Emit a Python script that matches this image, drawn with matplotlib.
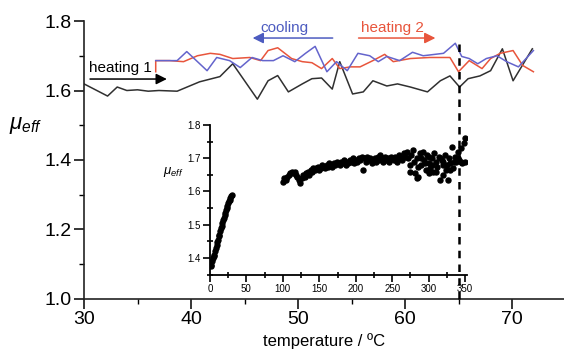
import matplotlib
matplotlib.use('Agg')
import matplotlib.pyplot as plt
from matplotlib.ticker import MultipleLocator

plt.rcParams['font.family'] = ['Liberation Sans', 'DejaVu Sans']
plt.rcParams['mathtext.fontset'] = 'custom'
plt.rcParams['mathtext.it'] = 'Liberation Sans:italic'
plt.rcParams['mathtext.rm'] = 'Liberation Sans'

# curva principal: mu_eff vs temperatura (oC)
t_heat1 = [30, 32.2, 33.1, 34, 35, 36, 37, 38.7, 40.8, 42.7, 43.9, 46.2, 47.2, 48.1,
           49.1, 50.4, 51.3, 52.2, 53.2, 53.9, 55.1, 56.1, 57, 58.3, 59.3, 60.5, 62.1,
           63.3, 64.2, 65.1, 65.9, 67, 68, 69.1, 70.1, 71.9]
mu_heat1 = [1.619, 1.584, 1.61, 1.60, 1.602, 1.598, 1.60, 1.598, 1.625, 1.64, 1.677,
            1.575, 1.628, 1.643, 1.596, 1.619, 1.634, 1.636, 1.604, 1.683, 1.59, 1.596,
            1.628, 1.613, 1.619, 1.61, 1.596, 1.628, 1.642, 1.61, 1.634, 1.642, 1.657,
            1.72, 1.628, 1.72]

t_heat2 = [36.7, 36.7, 38, 39.3, 40.6, 41.8, 42.7, 43.9, 45.5, 46.5, 47.2, 48.1, 49.4,
           50.4, 51.3, 52.2, 53.2, 53.9, 54.9, 55.8, 57, 58.1, 58.9, 60.5, 62.3, 64.2,
           65, 66, 67.2, 68, 68.9, 70.1, 71, 72]
mu_heat2 = [1.654, 1.686, 1.686, 1.683, 1.70, 1.707, 1.704, 1.692, 1.695, 1.686, 1.715,
            1.723, 1.692, 1.683, 1.68, 1.663, 1.692, 1.663, 1.668, 1.668, 1.686, 1.704,
            1.683, 1.692, 1.695, 1.695, 1.654, 1.686, 1.663, 1.692, 1.707, 1.715, 1.672,
            1.654]

t_cool = [36.7, 38, 38.7, 39.6, 41.5, 42.4, 43.6, 44.6, 45.7, 46.7, 47.7, 48.6, 49.7,
          50.7, 51.6, 52.7, 53.6, 54.6, 55.6, 56.7, 57.5, 58.3, 59.5, 60.7, 61.7, 63.6,
          64.7, 65.3, 66, 66.8, 67.6, 68.6, 69.5, 70.6, 72]
mu_cool = [1.686, 1.686, 1.686, 1.712, 1.657, 1.695, 1.686, 1.666, 1.695, 1.686, 1.686,
           1.70, 1.683, 1.707, 1.727, 1.654, 1.683, 1.657, 1.707, 1.70, 1.683, 1.698,
           1.686, 1.71, 1.70, 1.707, 1.736, 1.698, 1.692, 1.677, 1.692, 1.70, 1.683,
           1.668, 1.715]

t_transicion = 65

# inset: mu_eff vs temperatura (K)
tk_bajo = [1, 2, 3, 4, 5, 6, 7, 8, 9, 10, 11, 12, 13, 14, 15, 16, 17, 18, 19, 20,
           21, 22, 23, 24, 25, 26, 27, 28, 29, 30]
mu_bajo = [1.375, 1.38, 1.39, 1.40, 1.405, 1.41, 1.42, 1.43, 1.44, 1.447, 1.455, 1.465,
           1.47, 1.48, 1.49, 1.497, 1.505, 1.515, 1.52, 1.53, 1.535, 1.545, 1.55, 1.555,
           1.565, 1.57, 1.575, 1.58, 1.585, 1.59]

tk_alto = [100, 102, 104, 106, 108, 110, 112, 114, 116, 118, 120, 122, 124, 126, 128,
           130, 132, 134, 136, 138, 140, 142, 144, 146, 148, 150, 152, 154, 156, 158,
           160, 162, 164, 166, 168, 170, 172, 174, 176, 178, 180, 182, 184, 186, 188,
           190, 192, 194, 196, 198, 200, 202, 204, 206, 208, 210, 212, 214, 216, 218,
           220, 222, 224, 226, 228, 230, 232, 234, 236, 238, 240, 242, 244, 246, 248,
           250, 252, 254, 256, 258, 260, 262, 264, 266, 268, 270, 272, 274, 276, 278,
           280, 282, 284, 286, 288, 290, 292, 294, 296, 298, 300, 302, 304, 306, 308,
           310, 312, 314, 316, 318, 320, 322, 324, 326, 328, 330, 332, 334, 336, 338,
           340, 342, 344, 346, 348, 350,
           275, 285, 290, 295, 300, 305, 310, 315, 320, 325, 330, 335, 340, 345, 350,
           284, 300, 320]
mu_alto = [1.63, 1.64, 1.635, 1.645, 1.65, 1.655, 1.66, 1.655, 1.66, 1.65, 1.645, 1.635,
           1.625, 1.64, 1.65, 1.645, 1.655, 1.66, 1.65, 1.665, 1.66, 1.67, 1.665, 1.67,
           1.675, 1.665, 1.67, 1.68, 1.675, 1.67, 1.68, 1.675, 1.685, 1.68, 1.675, 1.685,
           1.68, 1.69, 1.685, 1.68, 1.69, 1.685, 1.695, 1.68, 1.69, 1.685, 1.695, 1.69,
           1.70, 1.685, 1.695, 1.69, 1.70, 1.695, 1.705, 1.665, 1.70, 1.69, 1.705, 1.695,
           1.70, 1.685, 1.695, 1.70, 1.69, 1.705, 1.695, 1.71, 1.70, 1.69, 1.705, 1.695,
           1.70, 1.69, 1.705, 1.70, 1.695, 1.705, 1.69, 1.70, 1.71, 1.70, 1.695, 1.715,
           1.705, 1.72, 1.70, 1.68, 1.71, 1.725, 1.69, 1.655, 1.70, 1.645, 1.715, 1.68,
           1.72, 1.695, 1.665, 1.71, 1.685, 1.67, 1.70, 1.66, 1.715, 1.69, 1.675, 1.705,
           1.635, 1.695, 1.68, 1.71, 1.665, 1.635, 1.70, 1.685, 1.735, 1.67, 1.705, 1.69,
           1.72, 1.695, 1.73, 1.685, 1.745, 1.76,
           1.66, 1.675, 1.70, 1.685, 1.705, 1.68, 1.66, 1.70, 1.69, 1.68, 1.665, 1.69,
           1.70, 1.69, 1.69,
           1.64, 1.655, 1.65]

rojo = '#e8553c'
azul = '#6464cc'
negro = '#303030'

fig = plt.figure(figsize=(5.64, 3.53), dpi=100)
ax = fig.add_axes([0.149, 0.153, 0.851, 0.7875])

ax.plot(t_heat1, mu_heat1, color=negro, lw=1.1)
ax.plot(t_heat2, mu_heat2, color=rojo, lw=1.1)
ax.plot(t_cool, mu_cool, color=azul, lw=1.1)
ax.plot([t_transicion, t_transicion], [1.0, 1.737], color='black', lw=1.8,
        ls=(0, (3, 2.5)), zorder=5, clip_on=False)

ax.set_xlim(30, 74.86)
ax.set_ylim(1.0, 1.8)
ax.xaxis.set_major_locator(MultipleLocator(10))
ax.xaxis.set_minor_locator(MultipleLocator(5))
ax.yaxis.set_major_locator(MultipleLocator(0.2))
ax.yaxis.set_minor_locator(MultipleLocator(0.1))
ax.tick_params(which='major', direction='out', length=7, width=1.1, labelsize=14, pad=2)
ax.tick_params(which='minor', direction='out', length=3.5, width=1.0)
ax.yaxis.set_major_formatter(plt.FormatStrFormatter('%.1f'))
for s in ['top', 'right']:
    ax.spines[s].set_visible(False)
for s in ['left', 'bottom']:
    ax.spines[s].set_linewidth(1.2)
    ax.spines[s].set_color('#222222')

ax.set_xlabel('temperature / ºC', fontsize=12, labelpad=3)
fig.text(0.045, 0.645, r'$\mu_{eff}$', fontsize=16, ha='center', va='center')

# flechas y etiquetas
ax.text(33.4, 1.666, 'heating 1', fontsize=11, color='black', ha='center', va='center')
ax.annotate('', xy=(38.0, 1.633), xytext=(30.3, 1.633),
            arrowprops=dict(arrowstyle='-|>', color='black', lw=1.1, mutation_scale=16))
ax.text(48.7, 1.780, 'cooling', fontsize=11, color='#4d5cc0', ha='center', va='center')
ax.annotate('', xy=(45.5, 1.751), xytext=(53.5, 1.751),
            arrowprops=dict(arrowstyle='-|>', color='#4d5cc0', lw=1.1, mutation_scale=16))
ax.text(58.8, 1.780, 'heating 2', fontsize=11, color=rojo, ha='center', va='center')
ax.annotate('', xy=(63.1, 1.751), xytext=(55.4, 1.751),
            arrowprops=dict(arrowstyle='-|>', color=rojo, lw=1.1, mutation_scale=16))

# inset
axin = fig.add_axes([0.3723, 0.221, 0.4557, 0.425])
axin.set_facecolor('none')
axin.plot(tk_bajo, mu_bajo, 'o', color='black', ms=3.6, mec='black')
axin.plot(tk_alto, mu_alto, 'o', color='black', ms=3.6, mec='black')
axin.set_xlim(0, 352.7)
axin.set_ylim(1.349, 1.8)
axin.xaxis.set_major_locator(MultipleLocator(50))
axin.xaxis.set_minor_locator(MultipleLocator(25))
axin.yaxis.set_major_locator(MultipleLocator(0.1))
axin.yaxis.set_minor_locator(MultipleLocator(0.05))
axin.yaxis.set_major_formatter(plt.FormatStrFormatter('%.1f'))
axin.tick_params(which='major', direction='out', length=5, width=1.2, labelsize=7, pad=1.5)
axin.tick_params(which='minor', direction='inout', length=4, width=1.2)
for s in ['top', 'right']:
    axin.spines[s].set_visible(False)
for s in ['left', 'bottom']:
    axin.spines[s].set_linewidth(1.3)
fig.text(0.307, 0.512, r'$\mu_{eff}$', fontsize=9.5, ha='center', va='center')

plt.savefig('out.png', dpi=100)
